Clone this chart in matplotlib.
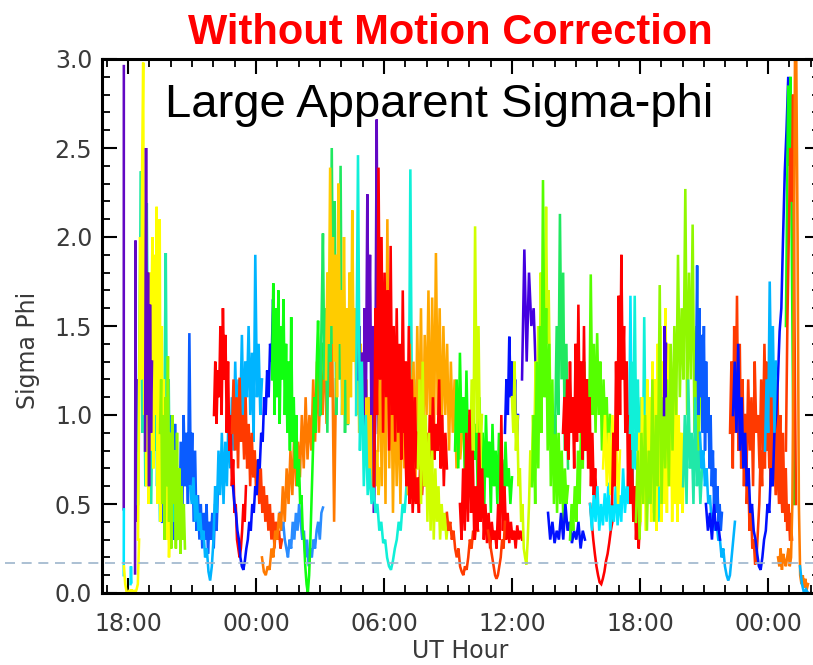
import numpy as np
import matplotlib
matplotlib.use("Agg")
import matplotlib.pyplot as plt
from matplotlib.ticker import MultipleLocator, FixedLocator

# ---------------- colours (satellite colour table) ----------------
VIO = '#6208c4'; PUR = '#4400e0'; BLU = '#0010ff'; RBL = '#0a5cff'
DBL = '#2a8cff'; SKY = '#00b4ff'; CYN = '#00e6ff'; TUR = '#10f0d8'
AQU = '#20e8a8'; SPG = '#20e860'; GRN = '#10ff10'; LGR = '#55ff00'
LIM = '#90f800'; CHA = '#d0ff00'; YEL = '#ffff00'; GLD = '#ffcc00'
AMB = '#ffa800'; ORG = '#ff7a00'; ORR = '#ff3a00'; RED = '#ff0000'

# ---------------- axis / labels ----------------
title_text = "Without Motion Correction"
note_text = "Large Apparent Sigma-phi"
x_label = "UT Hour"
y_label = "Sigma Phi"
x_tick_hours = [18, 24, 30, 36, 42, 48]
x_tick_labels = ["18:00", "00:00", "06:00", "12:00", "18:00", "00:00"]
y_tick_values = [0.0, 0.5, 1.0, 1.5, 2.0, 2.5, 3.0]
threshold = 0.17

# ---------------- sigma-phi tracks ----------------
trk01 = [0.47, 2.96]
trk02 = [0.10, 0.47]
trk03 = [0.15, 0.05, 0.01, 0.0, 0.01, 0.0, 0.02, 0.0, 0.01, 0.0, 0.02, 0.05, 0.3]
trk04 = [0.05, 0.15, 0.06]
trk05 = [0.11, 1.98, 0.4, 1.2, 0.8]
trk06 = [0.5, 1.5, 2.37, 0.9, 1.6, 0.6, 2.19, 1.0, 1.4, 0.5, 1.2, 0.8, 1.5, 0.6, 1.1, 0.4,
         1.3, 0.7, 1.0, 1.91, 0.6, 1.2, 0.3, 0.9, 0.4, 0.7, 0.3]
trk07 = [0.3, 1.0, 2.0, 1.2, 2.4, 2.98, 1.0, 2.0, 0.6, 1.5, 0.5, 1.8, 0.8, 1.6, 2.0, 0.7,
         1.9, 1.0, 2.17, 0.5, 1.6, 2.1, 0.4, 1.5, 0.6, 1.2, 0.35, 1.0, 0.3, 0.6, 0.2, 0.4]
trk08 = [0.8, 2.5, 1.0, 1.8, 0.6, 1.62, 0.9, 1.3]
trk09 = [0.9, 1.2, 0.5, 1.0, 0.3, 1.1, 0.6, 1.33, 0.4, 0.9, 0.25, 1.0, 0.5, 0.8, 0.25, 0.9,
         0.3, 0.7, 0.22, 0.6, 0.3, 0.5, 0.25]
trk10 = [0.4, 0.9, 0.3, 0.7, 0.35, 1.0, 0.5, 0.8, 0.3, 0.95, 0.45, 0.7, 0.3, 0.85, 0.4, 1.0,
         0.6, 0.9, 0.5, 1.46, 0.6, 0.9, 0.4, 0.8, 0.35, 0.55, 0.3, 0.5, 0.25, 0.45, 0.3, 0.5,
         0.22, 0.4, 0.3, 0.45, 0.25, 0.5, 0.35, 0.6]
trk11 = [0.6, 0.5, 0.65, 0.4, 0.55, 0.35, 0.45, 0.3, 0.35, 0.2, 0.25, 0.12, 0.07, 0.15, 0.3,
         0.6, 0.45, 0.8, 0.55, 0.9, 0.5, 0.85, 0.6, 1.0, 0.7, 1.1, 0.8, 1.3, 0.9, 1.2, 1.0,
         1.45, 0.9, 1.3, 1.1, 1.5, 1.0, 1.35, 0.85, 1.9, 1.1, 1.4, 1.0, 1.2]
trk12 = [1.0, 1.3, 0.95, 1.25, 1.1, 1.5, 1.0, 1.6, 1.2, 1.45, 0.9, 1.3, 0.8, 1.0, 0.6, 0.75,
         0.45, 0.5, 0.3, 0.25, 0.2, 0.25, 0.35, 0.5, 0.4, 0.6]
trk13 = [0.9, 1.2, 0.8, 1.1, 0.7, 1.21, 0.85, 1.0, 0.75, 1.1, 0.7, 0.95, 0.6, 0.9, 0.65, 0.8,
         0.55, 0.75, 0.5, 0.7, 0.45, 0.6, 0.4, 0.55, 0.35, 0.5, 0.3, 0.45, 0.25, 0.4, 0.3,
         0.35, 0.25, 0.3]
trk14 = [0.6, 0.5, 0.45, 0.35, 0.3, 0.2, 0.15, 0.13, 0.18, 0.25, 0.3, 0.4, 0.35, 0.5, 0.45,
         0.6, 0.55, 0.75, 0.7, 0.9, 0.85, 1.1, 1.0, 1.25, 1.1, 1.4, 1.3, 1.65, 1.4, 1.55]
trk15 = [0.45, 0.35, 0.4, 0.3, 0.25, 0.2, 0.3, 0.25, 0.4, 0.3, 0.45, 0.35, 0.5, 0.4, 0.3,
         0.35, 0.2, 0.3, 0.15, 0.25, 0.2, 0.3, 0.25, 0.35, 0.4, 0.3, 0.45, 0.48]
trk16 = [0.2, 0.12, 0.1, 0.15, 0.13, 0.25, 0.2, 0.35, 0.3, 0.45, 0.35, 0.6, 0.4, 0.7, 0.5,
         0.8, 0.55, 0.9, 0.6, 0.85, 0.65, 1.0, 0.7, 1.1, 0.75, 1.0, 0.8, 1.2, 0.85, 1.3, 0.9,
         1.25, 1.0, 1.45, 0.95, 1.65, 1.1, 1.4, 0.4, 1.2]
trk17 = [1.2, 1.74, 1.0, 1.6, 1.1, 1.7, 0.95, 1.5, 1.2, 1.65, 1.0, 1.4, 0.9, 1.3, 0.8, 1.55,
         0.85, 1.1, 0.7, 1.0, 0.6, 0.75, 0.5, 0.55, 0.35, 0.3, 0.15, 0.05, 0.0, 0.1, 0.3,
         0.55, 0.8, 1.1, 0.9, 1.3, 1.53, 1.2, 1.0, 1.4]
trk18 = [1.0, 1.5, 2.02, 1.2, 1.6, 0.9, 1.8, 1.3, 2.5, 1.4, 2.2, 1.0, 1.7, 1.2, 2.4, 1.0,
         1.5, 0.9, 1.3, 0.95]
trk19 = [1.2, 1.8, 1.4, 2.39, 1.5, 2.0, 1.3, 1.9, 1.1, 2.3, 1.4, 1.7, 1.0, 2.0, 1.2, 1.6,
         0.95, 1.8, 1.1, 2.15, 1.3, 1.6, 1.0, 1.5, 0.9, 1.4, 1.1, 1.3, 0.8, 1.2, 0.7, 1.1,
         0.6, 1.0, 0.55, 0.9, 0.6, 0.8, 0.55, 0.7]
trk20 = [1.2, 1.5, 1.0, 1.35, 0.9, 1.6, 1.1, 2.24, 1.3, 1.9, 1.0, 1.5, 0.45, 1.2, 2.66, 0.9]
trk21 = [1.0, 2.46, 0.8, 1.3, 0.6, 1.0, 0.55, 0.7, 0.5, 0.6, 0.45, 0.5, 0.35, 0.4, 0.28,
         0.3, 0.2, 0.15, 0.13, 0.18, 0.25, 0.3, 0.4, 0.35, 0.5, 0.45, 0.6, 0.55, 2.38, 0.7,
         1.2, 0.8, 1.0, 0.75]
trk22 = [0.8, 1.3, 0.6, 1.5, 0.5, 2.1, 0.7, 1.4, 0.45, 1.2, 0.6, 1.1, 0.5, 1.3, 0.7, 1.2,
         0.55, 1.4, 0.8, 1.3, 0.6, 1.5, 0.9, 1.6, 0.7, 1.45, 1.0, 1.7, 0.8, 1.66, 0.9, 1.91,
         1.0, 1.6, 0.85, 1.5, 1.0, 1.4, 0.8, 1.3, 0.9, 1.2, 0.7, 1.1, 0.75, 0.9]
trk23 = [0.6, 1.6, 1.0, 2.39, 1.2, 2.0, 0.9, 1.8, 1.1, 1.7, 0.8, 1.95, 1.0, 1.5, 0.85, 1.6,
         0.9, 1.4, 0.75, 1.7, 0.9, 1.3, 0.7, 1.5, 0.8, 1.2, 0.65, 1.1, 0.7, 0.9]
trk24 = [0.9, 0.6, 1.1, 0.5, 0.8, 0.45, 0.7, 0.5, 0.65, 0.45, 0.8, 0.55, 0.75, 0.6, 0.9,
         0.65, 1.0, 0.7, 1.1, 0.75, 0.95, 0.8, 1.2, 0.7, 1.0, 0.6, 0.9, 0.7]
trk25 = [0.7, 1.2, 0.5, 1.3, 0.6, 1.0, 0.4, 0.9, 0.35, 0.8, 0.3, 0.7, 0.4, 0.6, 0.3, 0.5,
         0.35, 0.45, 0.3, 0.4]
trk26 = [0.8, 1.2, 0.7, 1.35, 0.9, 1.1, 0.65, 1.25, 0.8, 1.0, 0.6, 1.15, 0.75, 0.95, 0.55,
         1.1, 0.7, 0.9, 0.5, 1.0, 0.65, 0.85, 0.45, 0.95, 0.6, 0.8, 0.5, 0.9, 0.55, 0.75,
         0.45, 0.85, 0.6, 0.7, 0.5, 0.65]
trk27 = [0.6, 1.2, 0.8, 2.06, 0.9, 1.5, 0.7, 1.0]
trk28 = [0.45, 0.35, 0.4, 0.3, 0.35, 0.25, 0.2, 0.25, 0.15, 0.12, 0.1, 0.15, 0.13, 0.2, 0.3,
         0.25, 0.35, 0.3, 0.4, 0.35]
trk29 = [0.5, 0.3, 0.7, 0.35, 0.9, 0.4, 1.03, 0.45, 0.8, 0.3, 0.6, 0.35, 0.9, 0.4, 0.7, 0.3,
         0.5, 0.28, 0.45, 0.25, 0.4, 0.3, 0.35, 0.25, 0.5, 0.3, 1.0, 0.35, 0.6, 0.3, 0.45,
         0.28, 0.4, 0.3, 0.35, 0.25, 0.38, 0.3, 0.35, 0.3]
trk30 = [0.35, 0.3, 0.25, 0.2, 0.15, 0.1, 0.08, 0.1, 0.15, 0.2, 0.3, 0.25, 0.4]
trk31 = [0.9, 1.2, 1.0, 1.44, 1.1, 1.3, 0.9, 1.2, 0.8, 1.0]
trk32 = [1.2, 1.93, 1.3, 1.8, 1.5, 1.6, 1.2]
trk33 = [1.1, 0.9, 1.3, 0.8, 1.0, 0.6, 0.7, 0.4, 0.5, 0.25, 0.2, 0.16, 0.3, 0.5, 0.8, 0.6,
         1.0, 0.8, 1.3, 0.9, 1.5, 1.1, 1.8, 1.2, 1.6, 1.3, 2.17, 1.4, 1.7, 1.2]
trk34 = [0.6, 1.0, 0.5, 1.3, 0.7, 1.5, 0.9, 2.32, 1.1, 1.6, 0.8, 1.4, 0.6, 1.2, 0.5, 1.0,
         0.45, 0.9, 0.5, 0.8, 0.4, 0.7, 0.5, 0.6]
trk35 = [0.9, 1.5, 1.0, 2.13, 1.2, 1.8, 0.8, 1.4, 0.7]
trk36 = [0.45, 0.3, 0.4, 0.28, 0.35, 0.3, 0.45, 0.3, 0.5, 0.35, 0.4, 0.28, 0.35, 0.3, 0.4,
         0.25, 0.35, 0.3]
trk37 = [0.3, 0.5, 0.35, 0.6, 0.4, 0.8, 0.5, 1.0, 0.7, 1.3, 0.8, 1.2, 0.9, 1.79, 1.0, 1.4,
         0.9, 1.46, 1.0, 1.3, 0.8, 1.2, 0.9, 1.1, 0.7, 1.0]
trk38 = [0.9, 1.1, 0.8, 1.2, 0.75, 1.3, 0.9, 1.1, 0.7, 1.4, 0.85, 1.62, 0.9, 1.3, 0.75, 1.5,
         0.8, 1.2, 0.7, 1.1, 0.6, 0.9, 0.55, 0.7, 0.5, 0.45]
trk39 = [0.5, 0.4, 0.3, 0.22, 0.15, 0.1, 0.06, 0.05, 0.08, 0.12, 0.18, 0.22, 0.28, 0.35,
         0.4, 0.47]
trk40 = [0.5, 0.35, 0.55, 0.4, 0.6, 0.35, 0.5, 0.38, 0.56, 0.4, 0.62, 0.35, 0.5, 0.4, 0.6,
         0.38, 0.55, 0.4, 0.7, 0.45, 0.6, 0.5, 1.67, 0.6, 0.9, 0.7]
trk41 = [0.7, 1.0, 0.6, 0.9, 0.55, 1.0, 0.6, 0.85, 0.5, 0.8]
trk42 = [0.5, 0.9, 0.6, 1.3, 0.8, 1.67, 1.0, 1.9, 1.2, 1.5, 0.9, 1.3, 0.6, 1.0, 0.5, 0.8,
         0.4, 0.6, 0.3, 0.5, 0.25, 0.4]
trk43 = [0.9, 1.3, 0.7, 1.67, 0.8, 1.2, 0.6, 1.1, 0.5, 1.55, 0.7, 1.0, 0.5, 0.9, 0.45, 0.8,
         0.5, 0.7, 0.4, 0.6]
trk44 = [0.5, 0.9, 0.4, 1.1, 0.5, 1.0, 0.35, 1.2, 0.6, 1.1, 0.4, 1.3, 0.5, 1.2, 0.35, 1.4,
         0.6, 1.5, 0.4, 1.3, 0.5, 1.6, 0.45, 1.4, 0.6, 1.3, 0.4, 1.2, 0.5, 1.1, 0.4, 1.0,
         0.5, 0.9, 0.45, 0.8]
trk45 = [0.4, 0.8, 0.3, 0.9, 0.5, 1.0, 0.35, 0.8, 0.5, 1.2, 0.4, 1.0, 0.6, 1.73, 0.5, 1.1,
         0.7, 1.2, 0.6, 1.4, 0.8, 1.5, 1.0, 1.9, 1.1, 1.6, 1.2, 2.27, 1.0, 1.8, 1.2, 2.07,
         0.9, 1.5, 0.7, 1.1]
trk46 = [0.6, 1.0, 0.5, 1.2, 0.7, 0.9, 0.5, 1.1, 0.6, 0.8, 0.5, 0.7]
trk47 = [1.0, 1.5, 1.1, 1.4]
trk48 = [1.2, 1.84, 1.0, 1.6, 1.1, 1.45, 0.9, 1.5, 0.8, 1.3, 0.9, 1.1, 0.7, 1.0, 0.6, 0.8,
         0.5, 0.7, 0.45, 0.6, 0.4, 0.5, 0.35, 0.45]
trk49 = [0.9, 0.7, 0.8, 0.6, 0.7, 0.5, 0.55, 0.4, 0.45, 0.35, 0.4, 0.3, 0.3, 0.2, 0.25,
         0.15, 0.1, 0.07, 0.1, 0.2, 0.3, 0.4]
trk50 = [0.5, 0.35, 0.45, 0.3, 0.5, 0.35, 0.4, 0.3]
trk51 = [0.9, 1.3, 0.7, 1.5, 0.9, 1.67, 0.8, 1.4, 0.7, 1.2, 0.6, 1.0, 0.5, 0.7, 0.35, 0.5,
         0.25, 0.3, 0.16, 0.2, 0.35, 0.5, 0.8, 0.6, 1.1, 0.7, 1.3, 0.8, 1.2, 0.6, 1.3, 0.7,
         1.1, 0.55, 1.2, 0.6, 1.0, 0.5, 0.9, 0.45, 0.7, 0.35, 0.5, 0.3]
trk52 = [1.0, 0.7, 1.2, 0.8, 1.1, 0.6, 1.3, 0.9, 1.0, 0.7, 1.2, 0.8, 1.4, 0.9, 1.1, 0.7,
         1.0, 0.6, 0.9, 0.55, 0.8, 0.5, 0.7, 0.45, 0.6, 0.4, 0.5, 0.35, 0.45, 0.3]
trk53 = [1.0, 1.3, 0.9, 1.4, 0.8, 1.1, 0.7, 0.9, 0.6, 0.7, 0.45, 0.5, 0.35, 0.3, 0.22, 0.15,
         0.13, 0.2, 0.3, 0.35, 0.5, 0.45, 0.7, 0.6, 0.9, 1.0, 1.2, 1.47, 1.6, 2.0, 2.37, 2.6,
         2.9, 2.7]
trk54 = [0.8, 1.2, 0.9, 1.75, 1.1, 1.5, 0.9, 1.3]
trk55 = [1.5, 2.2, 2.85, 2.4, 2.9, 2.0, 1.2, 0.5]
trk56 = [0.8, 1.5, 2.0, 2.5, 2.2, 2.8, 1.5, 0.5]
trk57 = [0.2, 0.15, 0.25, 0.13, 0.22, 0.18, 0.15, 0.2, 0.25, 0.15, 0.2, 0.5, 1.5, 3.0, 3.0,
         2.0, 0.5, 0.1, 0.05, 0.1, 0.03, 0.08, 0.02, 0.05]
trk58 = [0.15, 0.05, 0.0, 0.02, 0.0]

# drawing order, start / end hour of each track (hours from 00:00 of day one), colour
track_values = [trk01, trk02, trk03, trk04, trk05, trk10, trk06, trk07, trk08, trk09,
                trk11, trk12, trk13, trk14, trk15, trk16, trk17, trk18, trk19, trk20,
                trk21, trk22, trk23, trk24, trk25, trk26, trk27, trk28, trk29, trk30,
                trk31, trk32, trk33, trk34, trk35, trk36, trk37, trk38, trk39, trk40,
                trk41, trk42, trk43, trk44, trk45, trk46, trk47, trk48, trk49, trk50,
                trk51, trk52, trk53, trk54, trk55, trk56, trk57, trk58]
track_start = [17.80, 17.80, 17.81, 18.12, 18.33, 19.60, 18.47, 18.47, 18.80, 19.50,
               20.91, 22.03, 22.875, 22.92, 25.125, 24.28, 24.75, 27.00, 27.28, 28.78,
               28.69, 29.72, 29.53, 30.98, 31.59, 33.33, 34.03, 32.95, 33.56, 34.875,
               35.67, 36.47, 36.00, 36.94, 38.02, 37.69, 38.72, 38.39, 39.66, 39.66,
               40.27, 40.69, 41.53, 41.91, 41.81, 44.02, 43.125, 44.625, 44.81, 45.09,
               46.22, 46.92, 46.36, 47.86, 48.84, 48.84, 48.47, 49.50]
track_end = [17.805, 17.805, 18.52, 18.16, 18.42, 22.22, 20.25, 19.97, 19.125, 20.67,
             24.28, 23.53, 25.22, 24.94, 27.14, 27.75, 27.09, 28.31, 29.81, 29.72,
             31.69, 33.66, 31.59, 32.95, 33.00, 36.00, 34.59, 34.41, 36.47, 35.67,
             36.28, 37.125, 37.78, 38.625, 38.625, 39.42, 40.59, 40.03, 40.78, 41.81,
             41.06, 42.00, 42.94, 44.06, 44.81, 44.91, 43.22, 45.84, 46.45, 45.75,
             49.03, 49.125, 49.03, 48.375, 49.22, 49.31, 49.875, 49.875]
track_color = [VIO, CYN, YEL, CYN, VIO, RBL, AQU, YEL, VIO, LIM,
               SKY, RED, ORR, BLU, DBL, ORG, GRN, SPG, GLD, VIO,
               TUR, AMB, RED, RED, CHA, GRN, CHA, ORR, RED, ORR,
               BLU, PUR, CHA, LGR, SPG, BLU, LGR, RED, RED, CYN,
               YEL, RED, TUR, YEL, LIM, AQU, PUR, RBL, SKY, BLU,
               ORR, ORR, BLU, SKY, GRN, ORR, ORG, SKY]

# ---------------- figure ----------------
W, H = 813, 665
fig = plt.figure(figsize=(W / 100, H / 100), dpi=100)
ax_l, ax_r, ax_b, ax_t = 102, 820, 593, 59
ax = fig.add_axes([ax_l / W, 1 - ax_b / H, (ax_r - ax_l) / W, (ax_b - ax_t) / H])

for vals, h0, h1, col in zip(track_values, track_start, track_end, track_color):
    xs = np.linspace(h0, h1, len(vals))
    ax.plot(xs, vals, color=col, lw=1.85, solid_joinstyle='miter', zorder=2)

x_min = 18 - 26 / 21.333
x_max = 48 + 52 / 21.333
ax.set_xlim(x_min, x_max)
ax.set_ylim(0, 3.0)

# dashed threshold line, running across the whole figure
ax.axhline(threshold, xmin=(5 - ax_l) / (ax_r - ax_l), xmax=1, color='#9db5cc',
           lw=1.2, ls=(0, (6, 4)), clip_on=False, zorder=3)

ax.xaxis.set_major_locator(FixedLocator(x_tick_hours))
ax.set_xticklabels(x_tick_labels)
ax.xaxis.set_minor_locator(MultipleLocator(1))
ax.yaxis.set_major_locator(FixedLocator(y_tick_values))
ax.set_yticklabels([f"{v:.1f}" for v in y_tick_values])
ax.yaxis.set_minor_locator(MultipleLocator(0.1))

tick_col = '#3a3a3a'
ax.tick_params(axis='both', which='both', direction='in', top=True, right=True,
               color='black', labelcolor=tick_col, labelsize=17)
ax.tick_params(axis='both', which='major', length=10.5, width=1.5)
ax.tick_params(axis='both', which='minor', length=5.5, width=1.3)
ax.tick_params(axis='x', which='major', pad=13.5)
ax.tick_params(axis='y', which='major', pad=7)
for sp in ax.spines.values():
    sp.set_linewidth(2.2)

ax.set_xlabel(x_label, fontsize=17, color=tick_col)
ax.xaxis.set_label_coords((460 - ax_l) / (ax_r - ax_l), (ax_b - 658) / (ax_b - ax_t))
ax.xaxis.label.set_verticalalignment('baseline')
ax.set_ylabel(y_label, fontsize=17, color=tick_col)
ax.yaxis.set_label_coords((28 - ax_l) / (ax_r - ax_l), (ax_b - 350) / (ax_b - ax_t))
ax.yaxis.label.set_verticalalignment('center')

ax.text((165 - ax_l) / (ax_r - ax_l), (ax_b - 117) / (ax_b - ax_t), note_text,
        transform=ax.transAxes, ha='left', va='baseline', fontsize=34,
        family='Liberation Sans', color='black', zorder=5)

fig.text(450 / W, 1 - 44 / H, title_text, ha='center', va='baseline', fontsize=30,
         family='Liberation Sans', fontweight='bold', color='#ff0000')

fig.savefig("out.png", dpi=100)
